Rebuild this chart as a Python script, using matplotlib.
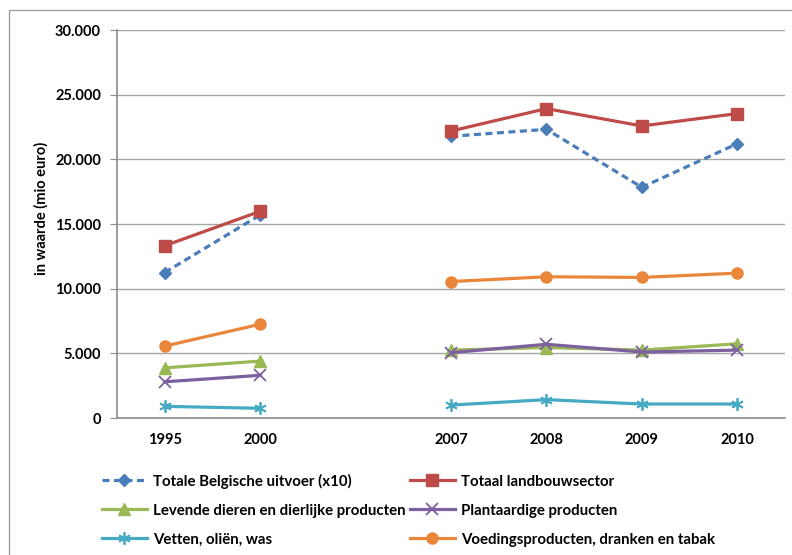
import matplotlib
matplotlib.use("Agg")
import matplotlib.pyplot as plt
from matplotlib.ticker import FuncFormatter, MultipleLocator
from matplotlib.patches import Rectangle
import numpy as np

plt.rcParams['font.family'] = ['Lato', 'DejaVu Sans']
plt.rcParams['font.weight'] = 'bold'

# categories (empty slot between 2000 and 2007)
years = ['1995', '2000', '', '2007', '2008', '2009', '2010']
nan = np.nan

totale_uitvoer = [11250, 15700, nan, 21780, 22320, 17840, 21210]
totaal_landbouw = [13320, 15980, nan, 22190, 23920, 22580, 23540]
levende_dieren = [3880, 4400, nan, 5250, 5450, 5250, 5740]
plantaardig = [2800, 3300, nan, 5050, 5700, 5100, 5250]
vetten = [900, 750, nan, 1000, 1420, 1080, 1080]
voeding = [5560, 7250, nan, 10550, 10920, 10870, 11200]

fig = plt.figure(figsize=(7.92, 5.55), dpi=100)
ax = fig.add_axes([117/792, (555-418)/555, (785-117)/792, (418-30)/555])

x = np.arange(len(years))
lw = 2.3
h1, = ax.plot(x, totale_uitvoer, color='#4A7EBB', lw=lw, ls=(0, (2.2, 1.4)), marker='D', ms=6.5,
              label='Totale Belgische uitvoer (x10)')
h2, = ax.plot(x, totaal_landbouw, color='#BE4B48', lw=lw, marker='s', ms=8,
              label='Totaal landbouwsector')
h3, = ax.plot(x, levende_dieren, color='#98B954', lw=lw, marker='^', ms=8,
              label='Levende dieren en dierlijke producten')
h4, = ax.plot(x, plantaardig, color='#7D60A0', lw=lw, marker='x', ms=8, mew=1.3,
              label='Plantaardige producten')
h5, = ax.plot(x, vetten, color='#46AAC5', lw=lw, marker=(6, 2, 0), ms=9, mew=1.3,
              label='Vetten, oliën, was')
h6, = ax.plot(x, voeding, color='#E8873A', lw=lw, marker='o', ms=8,
              label='Voedingsproducten, dranken en tabak')

ax.set_xlim(-0.5, len(years) - 0.5)
ax.set_ylim(0, 30000)
ax.set_xticks(x)
ax.set_xticklabels(years)
ax.yaxis.set_major_locator(MultipleLocator(5000))
ax.yaxis.set_major_formatter(FuncFormatter(lambda v, p: f"{int(v):,}".replace(',', '.')))
ax.grid(axis='y', color='#A6A6A6', lw=1.0)
ax.set_axisbelow(True)
for s in ['top', 'right']:
    ax.spines[s].set_visible(False)
for s in ['left', 'bottom']:
    ax.spines[s].set_color('#8C8C8C')
    ax.spines[s].set_linewidth(1.2)
ax.tick_params(axis='y', length=5, color='#8C8C8C', labelsize=10.5, pad=6.5)
ax.tick_params(axis='x', length=0, labelsize=10.5, pad=11)
ax.set_ylabel('in waarde (mio euro)', fontsize=10.5, fontweight='bold')
ax.yaxis.set_label_coords(-0.102, 0.54)

handles = [h1, h3, h5, h2, h4, h6]
fig.legend(handles=handles, labels=[h.get_label() for h in handles], ncol=2,
           loc='upper left', bbox_to_anchor=(88/792, 1 - 460/555), frameon=False,
           handlelength=3.0, handletextpad=0.45, columnspacing=0.25,
           labelspacing=1.0, prop={'weight': 'bold', 'size': 10.8})

fig.patches.append(Rectangle((9/792, -0.05), 1.2, (555-10)/555 + 0.05, transform=fig.transFigure,
                             fill=False, edgecolor='#A0A0A0', lw=1.0, clip_on=False))

fig.savefig('out.png', dpi=100)
